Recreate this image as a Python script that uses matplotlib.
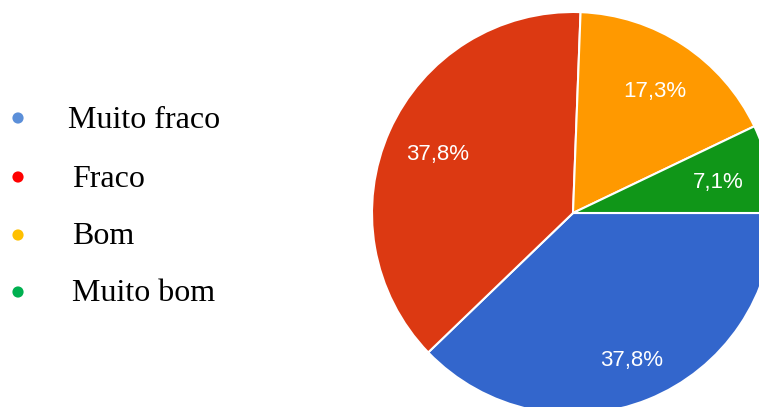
import matplotlib
matplotlib.use("Agg")
import matplotlib.pyplot as plt
import numpy as np

# answers and their shares (%)
categories   = ["Muito fraco", "Fraco", "Bom", "Muito bom"]
shares       = [37.8, 37.8, 17.3, 7.1]
pie_colors   = ["#3366cc", "#dc3912", "#ff9900", "#109618"]
legend_dots  = ["#5b8fd9", "#ff0000", "#ffc000", "#00b050"]

W, H = 759, 407
fig = plt.figure(figsize=(W / 100, H / 100), dpi=100)

#
# pie, centred at (573, 213) px with radius 201 px
cx, cy, r = 573, 213, 201
ax = fig.add_axes([(cx - r) / W, (H - cy - r) / H, 2 * r / W, 2 * r / H])
wedges, texts, autotexts = ax.pie(
    shares, colors=pie_colors, startangle=0, counterclock=False,
    autopct=lambda p: ("%.1f%%" % p).replace(".", ","), pctdistance=0.74,
    wedgeprops=dict(edgecolor="white", linewidth=1.5),
    textprops=dict(color="white", fontsize=16, family="Liberation Sans"),
)
# label distance from centre, per wedge
label_dist = [0.78, 0.74, 0.74, 0.74]
for w, t, d in zip(wedges, autotexts, label_dist):
    ang = np.deg2rad((w.theta1 + w.theta2) / 2)
    t.set_position((d * np.cos(ang), d * np.sin(ang)))
    t.set_va("center_baseline")
ax.set_xlim(-1, 1)
ax.set_ylim(-1, 1)
ax.set_aspect("equal")
ax.axis("off")

#
# legend drawn in pixel coordinates
lax = fig.add_axes([0, 0, 1, 1])
lax.set_xlim(0, W)
lax.set_ylim(H, 0)
lax.axis("off")
dot_y    = [118, 177, 235, 292]
text_x   = [68, 72, 72, 72]
baseline = [128, 187, 244, 301]
lax.scatter([18] * len(categories), dot_y, s=65, c=legend_dots, linewidths=0)
for name, x, y in zip(categories, text_x, baseline):
    lax.text(x, y, name, fontsize=23, family="Liberation Serif",
             va="baseline", ha="left", color="black")

fig.savefig("out.png", dpi=100)
